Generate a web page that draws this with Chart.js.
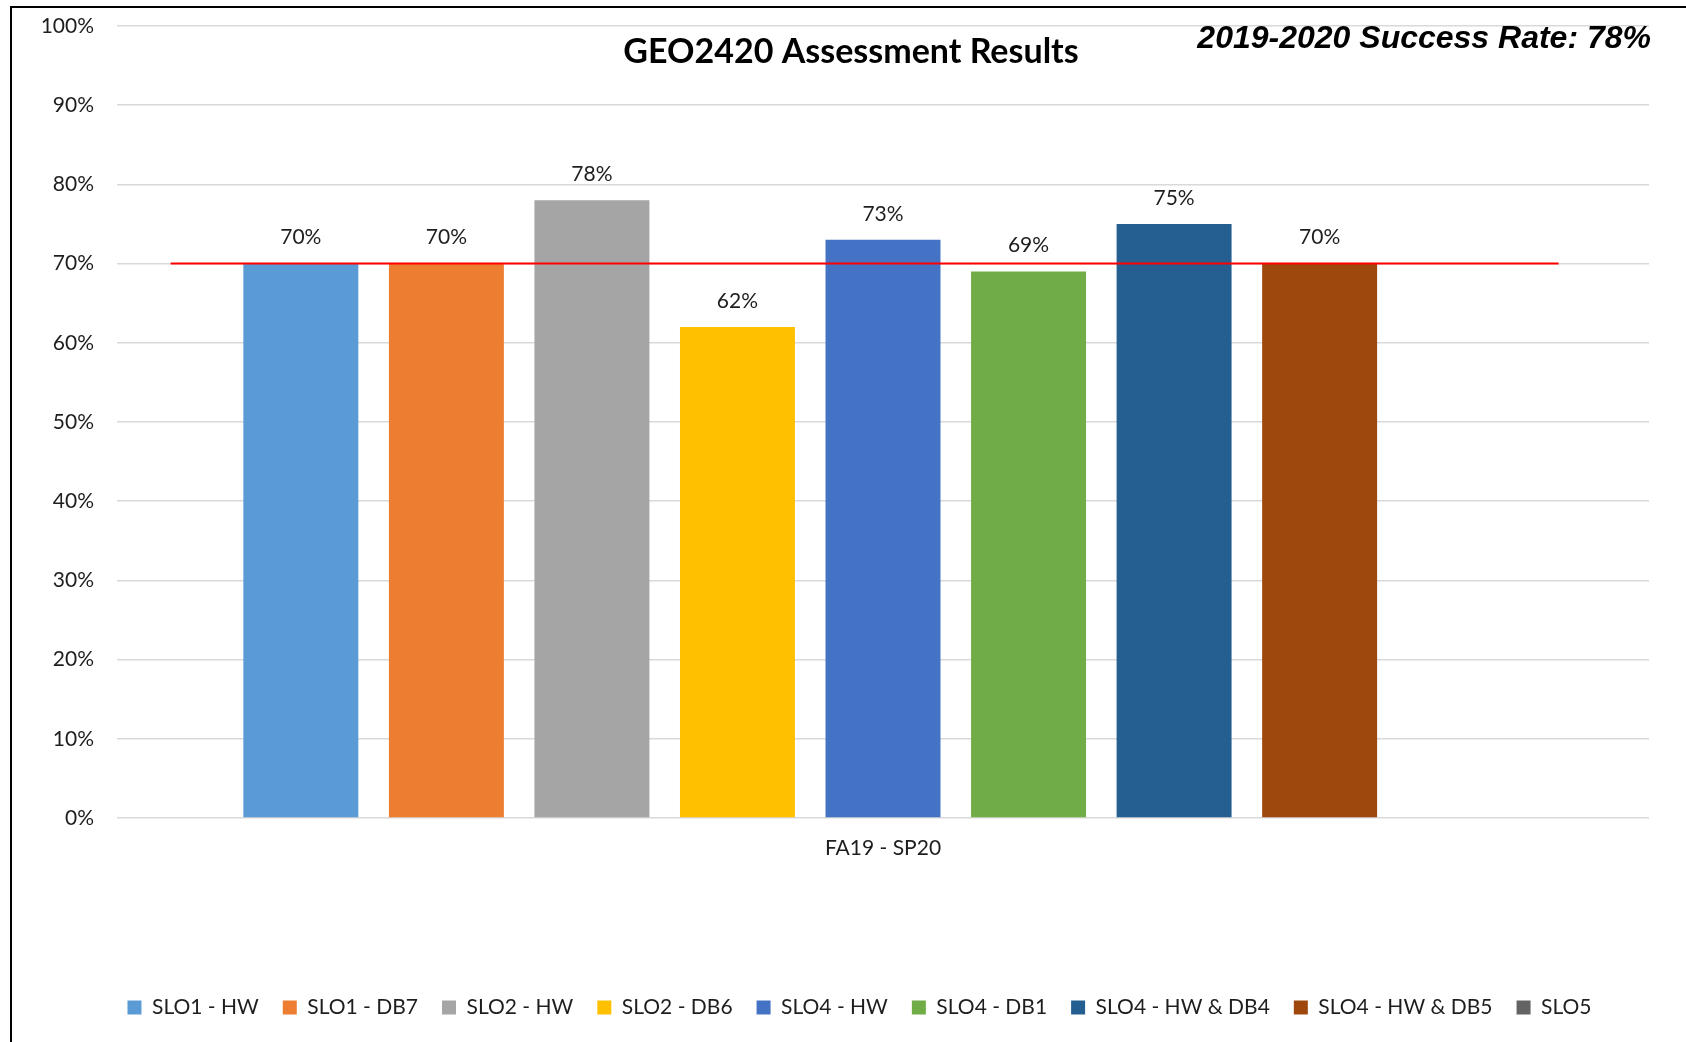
<!DOCTYPE html>
<html>
<head>
<meta charset="utf-8">
<script src="https://cdn.jsdelivr.net/npm/chart.js@4.4.1/dist/chart.umd.min.js"></script>
<style>
  html, body { margin: 0; padding: 0; background: #fff; }
  #wrap { width: 1686px; height: 1042px; }
</style>
</head>
<body>
<div id="wrap"><canvas id="c"></canvas></div>
<script>
// valores
const categories = ['FA19 - SP20'];
const seriesNames = ['SLO1 - HW', 'SLO1 - DB7', 'SLO2 - HW', 'SLO2 - DB6', 'SLO4 - HW',
                     'SLO4 - DB1', 'SLO4 - HW & DB4', 'SLO4 - HW & DB5', 'SLO5'];
const seriesValues = [70, 70, 78, 62, 73, 69, 75, 70, null];
const seriesColors = ['#5B9BD5', '#ED7D31', '#A5A5A5', '#FFC000', '#4472C4',
                      '#70AD47', '#255E91', '#9E480E', '#636363'];
const yTicks = [0, 10, 20, 30, 40, 50, 60, 70, 80, 90, 100];
const targetValue = 70;
const targetSpan = [0.035, 0.941]; // trecho da linha de meta, fração da largura do gráfico
const chartTitle = 'GEO2420 Assessment Results';
const rateText = '2019-2020 Success Rate: 78%';

const FONT = 'Lato';
const TEXT = '#1e1e1e';

// moldura, título e taxa de sucesso
const decor = {
    id: 'decor',
    afterLayout(chart) {
        // legenda do original fica um pouco à direita do centro
        chart.legend.left += 35;
        chart.legend.right += 35;
    },
    beforeDraw(chart) {
        const ctx = chart.ctx;
        ctx.save();
        ctx.strokeStyle = '#000';
        ctx.lineWidth = 2;
        ctx.beginPath();
        ctx.moveTo(11, chart.height);
        ctx.lineTo(11, 7);
        ctx.lineTo(chart.width, 7);
        ctx.stroke();
        ctx.restore();
    },
    afterDraw(chart) {
        const ctx = chart.ctx;
        ctx.save();
        ctx.fillStyle = '#000';
        ctx.textBaseline = 'middle';
        ctx.textAlign = 'center';
        ctx.font = 'bold 34px ' + FONT;
        ctx.fillText(chartTitle, 851, 52);
        ctx.textAlign = 'right';
        ctx.font = 'italic bold 32px "Liberation Sans"';
        ctx.fillText(rateText, 1651, 39);
        ctx.restore();
    }
};

// linha vermelha de meta (70%) e rótulos acima das barras
const barLabels = {
    id: 'barLabels',
    afterDatasetsDraw(chart) {
        const ctx = chart.ctx;
        const area = chart.chartArea;
        const yPos = chart.scales.y.getPixelForValue(targetValue);
        ctx.save();
        ctx.strokeStyle = '#FF0000';
        ctx.lineWidth = 2;
        ctx.beginPath();
        ctx.moveTo(area.left + targetSpan[0] * area.width, yPos);
        ctx.lineTo(area.left + targetSpan[1] * area.width, yPos);
        ctx.stroke();

        ctx.font = '21px ' + FONT;
        ctx.fillStyle = TEXT;
        ctx.textAlign = 'center';
        ctx.textBaseline = 'middle';
        chart.data.datasets.forEach((ds, i) => {
            chart.getDatasetMeta(i).data.forEach((bar, j) => {
                const v = ds.data[j];
                if (v == null) return;
                ctx.fillText(v + '%', bar.x, bar.y - 26);
            });
        });
        ctx.restore();
    }
};

new Chart(document.getElementById('c'), {
    type: 'bar',
    data: {
        labels: categories,
        datasets: seriesNames.map((name, i) => ({
            label: name,
            data: [seriesValues[i]],
            backgroundColor: seriesColors[i],
            borderWidth: 0
        }))
    },
    options: {
        responsive: true,
        maintainAspectRatio: false,
        animation: false,
        categoryPercentage: 0.855,
        barPercentage: 0.79,
        layout: { padding: { top: 26, left: 0, right: 37, bottom: 14 } },
        scales: {
            x: {
                grid: { display: false },
                border: { display: false },
                ticks: { color: TEXT, font: { family: FONT, size: 21 }, padding: 10 },
                afterFit: s => { s.height = 155; }
            },
            y: {
                min: 0,
                max: 100,
                afterBuildTicks: s => { s.ticks = yTicks.map(v => ({ value: v })); },
                grid: { color: '#D9D9D9', lineWidth: 1.5, drawTicks: false },
                border: { display: false },
                ticks: {
                    color: TEXT,
                    font: { family: FONT, size: 21, lineHeight: 0.2 },
                    padding: 23,
                    callback: v => v + '%'
                },
                afterFit: s => { s.width = 117; }
            }
        },
        plugins: {
            title: { display: false },
            tooltip: { enabled: false },
            legend: {
                position: 'bottom',
                labels: {
                    boxWidth: 14,
                    boxHeight: 14,
                    padding: 24,
                    color: TEXT,
                    font: { family: FONT, size: 21 }
                }
            }
        }
    },
    plugins: [decor, barLabels]
});
</script>
</body>
</html>
